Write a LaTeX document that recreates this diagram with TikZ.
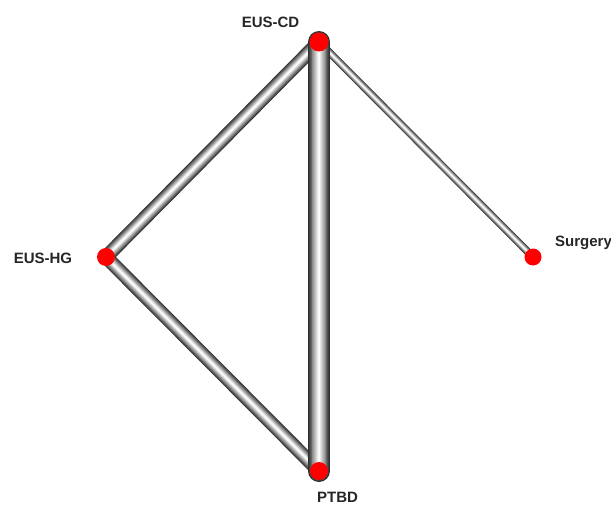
\documentclass[tikz,border=0pt]{standalone}
\usepackage{fontspec}
\setmainfont{Liberation Sans}
\usetikzlibrary{backgrounds}
\tikzset{
  dot/.style={circle, fill=red, inner sep=0pt, minimum size=#1},
  lbl/.style={font=\fontsize{15}{17}\selectfont\bfseries, text=black!85, inner sep=0pt}
}
% shaded tube between two nodes: layered strokes, dark rim to light core
\newcommand\tube[3]{%
  \foreach \k in {0,...,11}{%
    \pgfmathsetmacro\ww{#3*(1-\k/12.5)}%
    \pgfmathsetmacro\cc{82-80*(\k/11)}%
    \draw[line width=\ww pt, draw=black!\cc, line cap=round] (#1.center) -- (#2.center);
  }%
}
\begin{document}
\begin{tikzpicture}[x=1pt, y=-1pt]
  \useasboundingbox (0,0) rectangle (611,506);

  \node[dot=19pt] (cd) at (319,42) {};
  \node[dot=18pt] (hg) at (106,257) {};
  \node[dot=17pt] (su) at (533,257) {};
  \node[dot=18pt] (pt) at (319,471) {};

  \node[lbl] (lcd) at (270.5,22) {EUS-CD};
  \node[lbl] (lhg) at (43,258) {EUS-HG};
  \node[lbl, anchor=base west] (lsu) at (555,246.5) {Surgery};
  \node[lbl, anchor=base] (lpt) at (337.5,502) {PTBD};

  \begin{scope}[on background layer]
    \fill[white] (0,0) rectangle (611,506);
    \tube{cd}{hg}{14}
    \tube{hg}{pt}{14}
    \tube{cd}{su}{7.5}
    \tube{cd}{pt}{22}
  \end{scope}
\end{tikzpicture}
\end{document}
